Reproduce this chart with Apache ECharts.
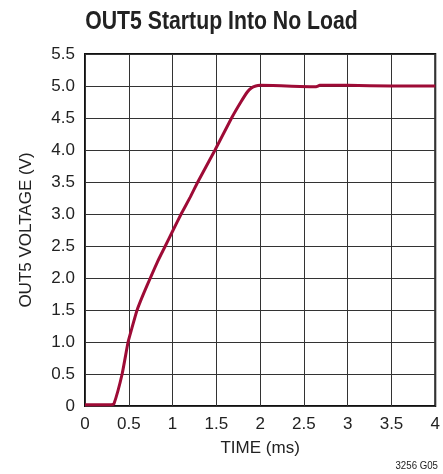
<!DOCTYPE html>
<html>
<head>
<meta charset="utf-8">
<script src="https://cdn.jsdelivr.net/npm/echarts@6/dist/echarts.min.js"></script>
<style>
  html, body { margin: 0; padding: 0; background: #fff; }
  #chart { width: 443px; height: 474px; }
</style>
</head>
<body>
<div id="chart"></div>
<script>
// time (ms) and OUT5 voltage (V)
const timeMs = [0, 0.1, 0.2, 0.3, 0.33, 0.424, 0.492, 0.53, 0.595, 0.67, 0.746, 0.83, 0.917, 1.0, 1.098, 1.2, 1.288, 1.485, 1.674, 1.78, 1.856, 1.9, 1.95, 2.0, 2.3, 2.6, 2.64, 2.68, 3.0, 3.5, 4.0]
const voltage = [0.02, 0.02, 0.02, 0.02, 0.03, 0.5, 1.0, 1.19, 1.5, 1.76, 2.0, 2.26, 2.5, 2.73, 3.0, 3.26, 3.5, 4.0, 4.5, 4.75, 4.91, 4.97, 5.0, 5.01, 5.0, 4.99, 4.99, 5.01, 5.01, 5.0, 5.0]

const titleText = 'OUT5 Startup Into No Load'
const xName = 'TIME (ms)'
const yName = 'OUT5 VOLTAGE (V)'
const footNote = '3256 G05'

const font = '"Liberation Sans", Arial, sans-serif'

const chart = echarts.init(document.getElementById('chart'))
const option = {
  animation: false,
  grid: { left: 85, right: 6, top: 54, bottom: 68, show: true, borderColor: '#111', borderWidth: 2 },
  xAxis: {
    type: 'value',
    min: 0, max: 4, interval: 0.5,
    name: xName,
    nameLocation: 'middle',
    nameGap: 34,
    nameTextStyle: { fontFamily: font, fontSize: 17, color: '#222' },
    axisLine: { show: false },
    axisTick: { show: false },
    axisLabel: { fontFamily: font, fontSize: 17, color: '#222', margin: 10 },
    splitLine: { lineStyle: { color: '#333', width: 1 } }
  },
  yAxis: {
    type: 'value',
    min: 0, max: 5.5, interval: 0.5,
    name: yName,
    nameLocation: 'middle',
    nameGap: 50,
    nameTextStyle: { fontFamily: font, fontSize: 17, color: '#222' },
    axisLine: { show: false },
    axisTick: { show: false },
    axisLabel: {
      fontFamily: font, fontSize: 17, color: '#222', margin: 10,
      formatter: v => (v === 0 ? '0' : v.toFixed(1))
    },
    splitLine: { lineStyle: { color: '#333', width: 1 } }
  },
  graphic: [
    {
      // condensed bold title: squeeze a normal bold face horizontally
      type: 'text',
      x: 221.5,
      y: 22,
      scaleX: 0.85,
      style: {
        text: titleText,
        font: 'bold 25px "Liberation Sans", Arial, sans-serif',
        fill: '#222',
        textAlign: 'center',
        textVerticalAlign: 'middle'
      }
    },
    {
      type: 'text',
      x: 438,
      y: 466,
      scaleX: 0.88,
      style: {
        text: footNote,
        font: '11px "Liberation Sans", Arial, sans-serif',
        fill: '#222',
        textAlign: 'right',
        textVerticalAlign: 'middle'
      }
    }
  ],
  series: [{
    type: 'line',
    data: timeMs.map((t, i) => [t, voltage[i]]),
    showSymbol: false,
    smooth: 0.15,
    lineStyle: { color: '#9e0b36', width: 3 }
  }]
}
chart.setOption(option)
</script>
</body>
</html>
